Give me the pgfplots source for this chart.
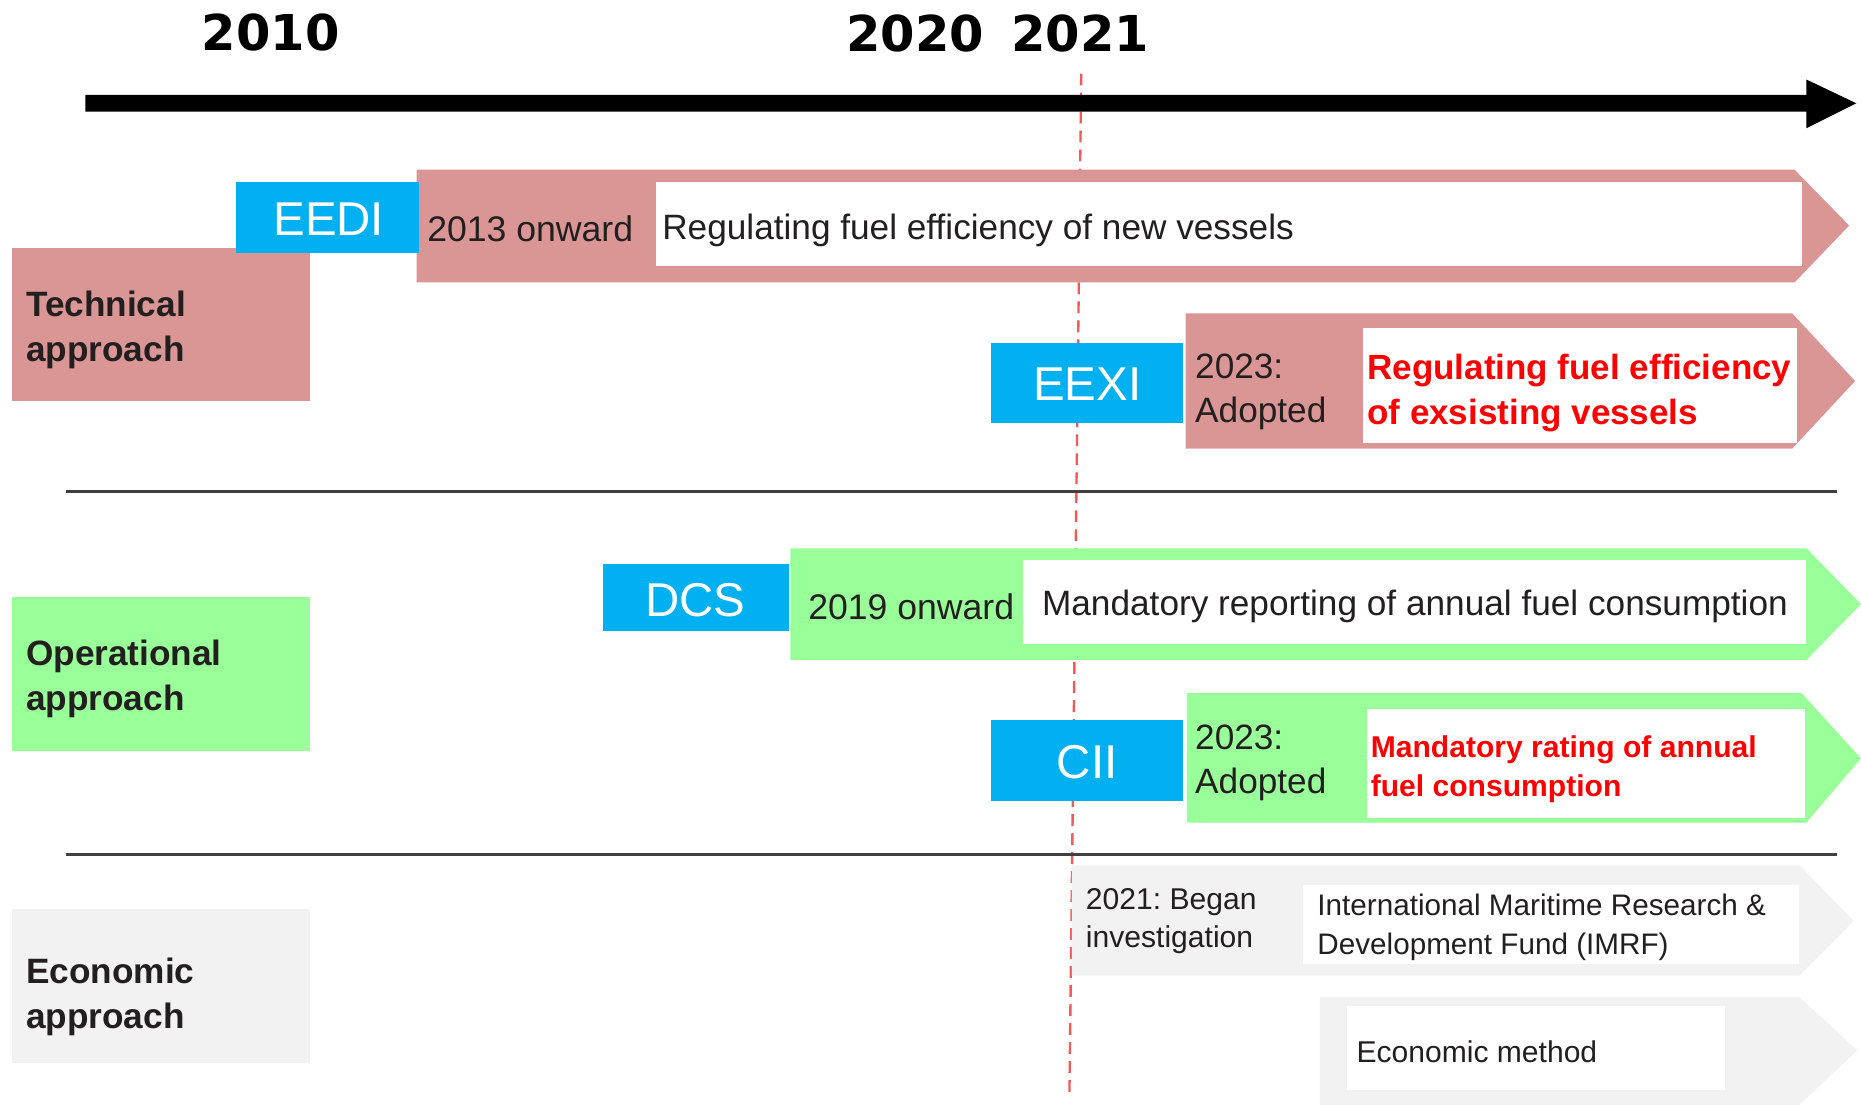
\documentclass[border=0pt]{standalone}
\usepackage{pgfplots}
\pgfplotsset{compat=1.18}
\usepackage{fontspec}
\setmainfont{Liberation Sans}
\newfontfamily\yearfont{DejaVu Sans}
\frenchspacing

\definecolor{pinkc}{HTML}{D99694}
\definecolor{greenc}{HTML}{99FF99}
\definecolor{grayc}{HTML}{F2F2F2}
\definecolor{cyanc}{HTML}{00B0F0}
\definecolor{txt}{HTML}{231F20}
\definecolor{redt}{HTML}{FF0000}
\definecolor{dashred}{HTML}{F25A5A}

\newcommand{\fs}[2]{\fontsize{#1}{#2}\selectfont}
\tikzset{lab/.style={inner sep=0pt, outer sep=0pt, text=txt}}

\begin{document}
\begin{tikzpicture}
\begin{axis}[
    scale only axis,
    width=470.4pt, height=279.3pt,
    xmin=0, xmax=1568, ymin=0, ymax=931,
    y dir=reverse,
    hide axis,
    clip=false,
]
% keep the whole canvas in the bounding box
\path (axis cs:0,0) rectangle (axis cs:1568,931);

% 2021 marker
\addplot[dashred, line width=0.6pt, dash pattern=on 3pt off 1.8pt] coordinates {(911,62) (901,925)};

% time arrow
\addplot[fill=black, draw=none] coordinates {(72,80) (1522,80) (1522,67) (1564,87) (1522,108) (1522,94) (72,94)};

% section dividers
\addplot[black!75, line width=0.8pt] coordinates {(56,414) (1548,414)};
\addplot[black!75, line width=0.8pt] coordinates {(56,720) (1548,720)};

% approach boxes
\addplot[fill=pinkc, draw=none] coordinates {(10,209) (261,209) (261,338) (10,338)};
\addplot[fill=greenc, draw=none] coordinates {(10,503) (261,503) (261,633) (10,633)};
\addplot[fill=grayc, draw=none] coordinates {(10,766) (261,766) (261,896) (10,896)};

% EEDI
\addplot[fill=pinkc, draw=none] coordinates {(351,143) (1512,143) (1558,190) (1512,238) (351,238)};
\addplot[fill=white, draw=none] coordinates {(553,153) (1518,153) (1518,224) (553,224)};
\addplot[fill=cyanc, draw=none] coordinates {(199,153) (353,153) (353,213) (199,213)};

% EEXI
\addplot[fill=pinkc, draw=none] coordinates {(999,264) (1510,264) (1563,321) (1510,378) (999,378)};
\addplot[fill=white, draw=none] coordinates {(1148,276) (1514,276) (1514,373) (1148,373)};
\addplot[fill=cyanc, draw=none] coordinates {(835,289) (997,289) (997,356) (835,356)};

% DCS
\addplot[fill=greenc, draw=none] coordinates {(666,462) (1522,462) (1568,509) (1522,556) (666,556)};
\addplot[fill=white, draw=none] coordinates {(862,472) (1522,472) (1522,543) (862,543)};
\addplot[fill=cyanc, draw=none] coordinates {(508,475) (665,475) (665,532) (508,532)};

% CII
\addplot[fill=greenc, draw=none] coordinates {(1000,584) (1518,584) (1568,639) (1522,693) (1000,693)};
\addplot[fill=white, draw=none] coordinates {(1152,597) (1521,597) (1521,689) (1152,689)};
\addplot[fill=cyanc, draw=none] coordinates {(835,607) (997,607) (997,675) (835,675)};

% economic
\addplot[fill=grayc, draw=none] coordinates {(903,729) (1516,729) (1562,776) (1516,822) (903,822)};
\addplot[fill=white, draw=none] coordinates {(1098,746) (1516,746) (1516,812) (1098,812)};
\addplot[fill=grayc, draw=none] coordinates {(1112,840) (1516,840) (1565,885) (1516,931) (1112,931)};
\addplot[fill=white, draw=none] coordinates {(1135,848) (1453,848) (1453,918) (1135,918)};

% years
\node[lab, text=black, font=\yearfont\bfseries\fs{12.5}{14}] at (axis cs:228,27) {2010};
\node[lab, text=black, font=\yearfont\bfseries\fs{12.5}{14}] at (axis cs:771,28) {2020};
\node[lab, text=black, font=\yearfont\bfseries\fs{12.5}{14}] at (axis cs:910,28) {2021};

% approach labels
\node[lab, anchor=west, align=left, font=\bfseries\fs{8.9}{11.4}] at (axis cs:22,278) {Technical\\approach};
\node[lab, anchor=west, align=left, font=\bfseries\fs{8.9}{11.4}] at (axis cs:22,572) {Operational\\approach};
\node[lab, anchor=west, align=left, font=\bfseries\fs{8.9}{11.4}] at (axis cs:22,840) {Economic\\approach};

% measure names
\node[lab, text=white, font=\fs{12}{14}] at (axis cs:277,185) {EEDI};
\node[lab, text=white, font=\fs{12}{14}] at (axis cs:916,324) {EEXI};
\node[lab, text=white, font=\fs{12}{14}] at (axis cs:586,506) {DCS};
\node[lab, text=white, font=\fs{12}{14}] at (axis cs:916,642) {CII};

% band texts
\node[lab, anchor=west, font=\fs{9}{11}] at (axis cs:360,193) {2013 onward};
\node[lab, anchor=west, font=\fs{8.9}{11}] at (axis cs:558,194) {Regulating fuel efficiency of new vessels};
\node[lab, anchor=west, align=left, font=\fs{8.9}{11.1}] at (axis cs:1007,330) {2023:\\Adopted};
\node[lab, anchor=west, align=left, text=redt, font=\bfseries\fs{8.85}{11.4}] at (axis cs:1152,331) {Regulating fuel efficiency\\of exsisting vessels};
\node[lab, anchor=west, font=\fs{9}{11}] at (axis cs:681,511) {2019 onward};
\node[lab, anchor=west, font=\fs{8.9}{11}] at (axis cs:878,511) {Mandatory reporting of annual fuel consumption};
\node[lab, anchor=west, align=left, font=\fs{8.9}{11.1}] at (axis cs:1007,643) {2023:\\Adopted};
\node[lab, anchor=west, align=left, text=redt, font=\bfseries\fs{7.6}{9.9}] at (axis cs:1155,648) {Mandatory rating of annual\\fuel consumption};
\node[lab, anchor=west, align=left, font=\fs{7.6}{9.6}] at (axis cs:915,776) {2021: Began\\investigation};
\node[lab, anchor=west, align=left, font=\fs{7.5}{9.9}] at (axis cs:1110,781) {International Maritime Research \&\\Development Fund (IMRF)};
\node[lab, anchor=west, font=\fs{7.6}{9}] at (axis cs:1143,886) {Economic method};
\end{axis}
\end{tikzpicture}
\end{document}
